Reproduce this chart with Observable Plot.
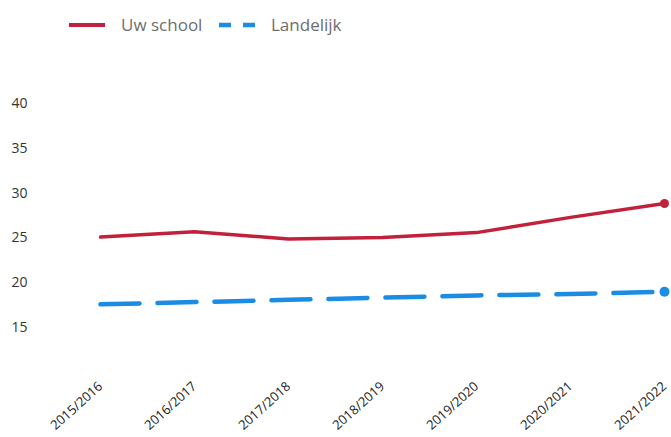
<!DOCTYPE html>
<html>
<head>
<meta charset="utf-8">
<script src="https://cdn.jsdelivr.net/npm/d3@7"></script>
<script src="https://cdn.jsdelivr.net/npm/@observablehq/plot@0.6"></script>
<style>
  html, body { margin: 0; padding: 0; background: #fff; }
  body { width: 671px; height: 437px; overflow: hidden; font-family: "Open Sans", sans-serif; }
  #legend { position: relative; height: 50px; color: #6e6e6e; font-size: 17px; }
  #legend .sw { position: absolute; top: 15px; }
  #legend .lb { position: absolute; top: 13px; line-height: 24px; }
</style>
</head>
<body>
<div id="legend">
  <svg class="sw" style="left:69px" width="38" height="20"><line x1="0" x2="36" y1="10" y2="10" stroke="#c1213b" stroke-width="4"/></svg>
  <span class="lb" style="left:121px">Uw school</span>
  <svg class="sw" style="left:219px" width="40" height="20"><line x1="0" x2="36" y1="10" y2="10" stroke="#1b8ce3" stroke-width="4.5" stroke-dasharray="12,12"/></svg>
  <span class="lb" style="left:271px">Landelijk</span>
</div>
<div id="chart"></div>
<script>
const years = ["2015/2016", "2016/2017", "2017/2018", "2018/2019", "2019/2020", "2020/2021", "2021/2022"];
const uwSchool = [25.1, 25.7, 24.9, 25.05, 25.6, 27.3, 28.85];
const landelijk = [17.6, 17.85, 18.1, 18.35, 18.6, 18.75, 19.0];
const yTicks = [15, 20, 25, 30, 35, 40];

const schoolData = years.map((y, i) => ({year: y, value: uwSchool[i]}));
const landData = years.map((y, i) => ({year: y, value: landelijk[i]}));

const red = "#c1213b";
const blue = "#1b8ce3";

const chart = Plot.plot({
  width: 671,
  height: 387,
  marginTop: 53,
  marginBottom: 65,
  marginLeft: 98,
  marginRight: 6,
  style: {fontFamily: "'Open Sans', sans-serif", fontSize: "13px", color: "#333", background: "#fff"},
  x: {type: "point", domain: years, padding: 0},
  y: {domain: [10, 40]},
  marks: [
    Plot.axisY({ticks: yTicks, tickSize: 0, tickPadding: 71, label: null, fontSize: 14, fill: "#333"}),
    Plot.axisX({tickSize: 0, tickPadding: 12, tickRotate: -42, label: null, fontSize: 13, fill: "#222"}),
    Plot.line(landData, {x: "year", y: "value", stroke: blue, strokeWidth: 4.5, strokeDasharray: "39,18"}),
    Plot.line(schoolData, {x: "year", y: "value", stroke: red, strokeWidth: 3.5}),
    Plot.dot(landData.slice(-1), {x: "year", y: "value", r: 5, fill: blue}),
    Plot.dot(schoolData.slice(-1), {x: "year", y: "value", r: 4.5, fill: red})
  ]
});
document.getElementById("chart").appendChild(chart);
</script>
</body>
</html>
